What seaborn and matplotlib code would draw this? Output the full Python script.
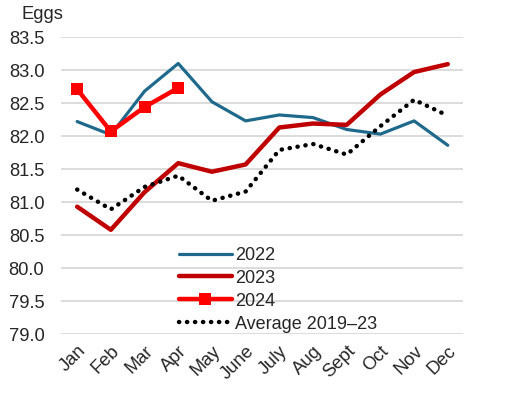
import numpy as np
import pandas as pd
import seaborn as sns
import matplotlib.pyplot as plt

months = ["Jan", "Feb", "Mar", "Apr", "May", "June", "July", "Aug", "Sept", "Oct", "Nov", "Dec"]
y2022 = [82.22, 82.02, 82.68, 83.10, 82.52, 82.23, 82.32, 82.28, 82.10, 82.03, 82.23, 81.86]
y2023 = [80.93, 80.58, 81.15, 81.59, 81.46, 81.57, 82.13, 82.19, 82.17, 82.63, 82.97, 83.09]
y2024 = [82.71, 82.07, 82.44, 82.73]
avg = [81.19, 80.89, 81.23, 81.40, 81.02, 81.16, 81.79, 81.88, 81.72, 82.15, 82.55, 82.31]

sns.set_style("white")
plt.rcParams['font.family'] = ['Liberation Sans', 'DejaVu Sans']

fig = plt.figure(figsize=(5.19, 4.03), dpi=100)
ax = fig.add_axes([0.1175, 0.171, 0.7745, 0.737])

x = np.arange(len(months))
sns.lineplot(x=x, y=y2022, ax=ax, color="#1F6A8C", lw=2.3, label="2022")
sns.lineplot(x=x, y=y2023, ax=ax, color="#C00000", lw=3.2, label="2023")
sns.lineplot(x=x[:4], y=y2024, ax=ax, color="#FF0000", lw=3.2, marker="s",
             markersize=8, markeredgewidth=0, label="2024")
sns.lineplot(x=x, y=avg, ax=ax, color="black", lw=3.2, label="Average 2019\u201323",
             linestyle=(0, (0.05, 1.75)), dash_capstyle="round")

ax.set_xlim(-0.48, 11.45)
ax.set_ylim(79.0, 83.5)
ax.set_yticks(np.arange(79.0, 83.51, 0.5))
ax.set_yticklabels([f"{v:.1f}" for v in np.arange(79.0, 83.51, 0.5)])
ax.set_xticks(x)
ax.set_xticklabels(months, rotation=45, ha="right", rotation_mode="anchor")
ax.tick_params(axis="y", length=0, pad=12, labelsize=13.2)
ax.tick_params(axis="x", length=0, pad=6, labelsize=13.2)
ax.grid(axis="y", color="#D9D9D9", lw=1.3)
ax.set_axisbelow(True)
for s in ax.spines.values():
    s.set_visible(False)
ax.set_xlabel("")
ax.set_ylabel("")

ax.legend(loc="upper left", bbox_to_anchor=(0.276, 0.318), frameon=False,
          fontsize=13, handlelength=2.9, handletextpad=0.2, labelspacing=0.33,
          borderaxespad=0)

fig.text(0.042, 0.965, "Eggs", fontsize=13.2, va="center", ha="left")

fig.savefig("out.png", dpi=100)
